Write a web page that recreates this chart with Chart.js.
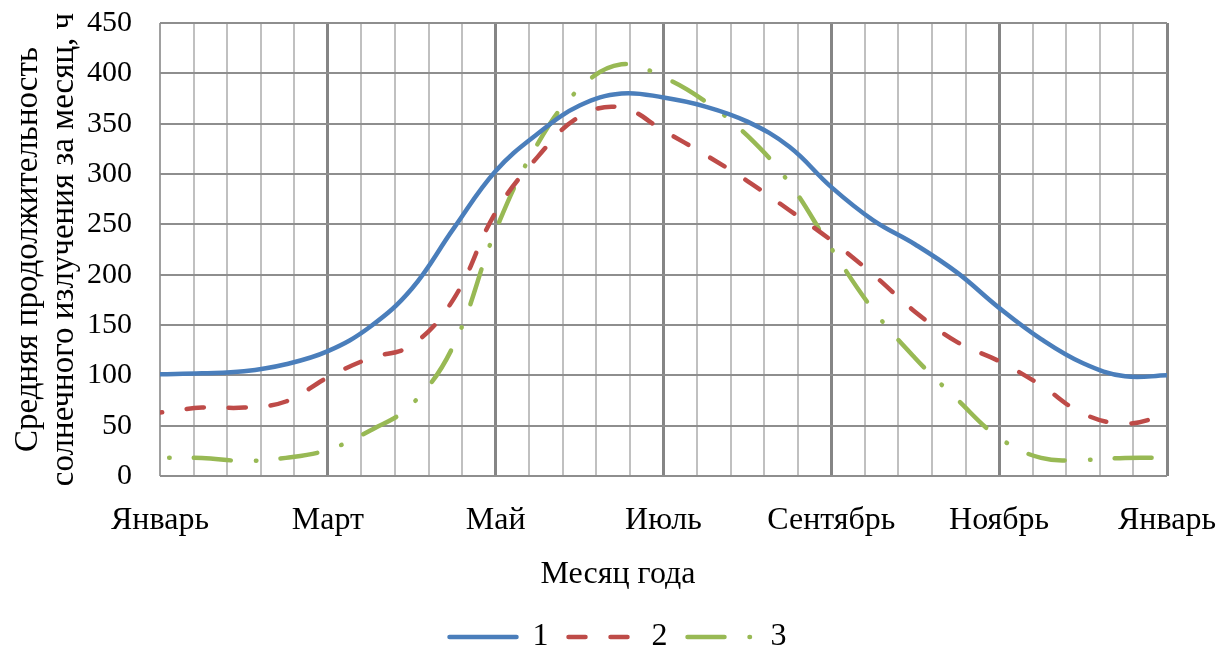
<!DOCTYPE html>
<html lang="ru">
<head>
<meta charset="utf-8">
<title>Продолжительность солнечного излучения</title>
<script src="https://cdn.jsdelivr.net/npm/chart.js@4.4.1/dist/chart.umd.min.js"></script>
<style>
  html, body { margin: 0; padding: 0; background: #fff; overflow: hidden; }
  #wrap { width: 1230px; height: 663px; }
</style>
</head>
<body>
<div id="wrap"><canvas id="sunChart" width="1230" height="663"></canvas></div>
<script>
// Положение по оси X в месяцах (0 = январь, 12 = январь следующего года), шаг полмесяца
const months = [0, 0.5, 1, 1.5, 2, 2.5, 3, 3.5, 4, 4.5, 5, 5.5, 6,
                6.5, 7, 7.5, 8, 8.5, 9, 9.5, 10, 10.5, 11, 11.5, 12];

// Подписи основных делений (каждые два месяца)
const tickLabels = ['Январь', 'Март', 'Май', 'Июль', 'Сентябрь', 'Ноябрь', 'Январь'];

// Средняя продолжительность солнечного излучения, ч
const series1 = [101, 102, 104, 111, 124, 148, 186, 246, 303, 340, 368, 380, 376,
                 367, 352, 327, 287, 254, 230, 202, 167, 136, 112, 99, 100];
const series2 = [63, 68, 68, 74, 98, 117, 130, 176, 262, 317, 357, 366, 343,
                 319, 293, 264, 234, 200, 163, 133, 114, 90, 62, 52, 61];
const series3 = [18, 18, 15, 18, 26, 45, 71, 130, 244, 330, 385, 409, 396,
                 372, 338, 291, 226, 165, 117, 76, 38, 18, 16, 18, 18];

const seriesNames = ['1', '2', '3'];

const FONT = 'Liberation Serif';

function toPoints(values) {
    return months.map((m, i) => ({ x: m, y: values[i] }));
}

const data = {
    datasets: [
        {
            label: seriesNames[0],
            data: toPoints(series1),
            borderColor: '#4a7ebb',
            borderDash: []
        },
        {
            label: seriesNames[1],
            data: toPoints(series2),
            borderColor: '#be4b48',
            borderDash: [17, 25],
            borderDashOffset: 15
        },
        {
            label: seriesNames[2],
            data: toPoints(series3),
            borderColor: '#98b954',
            borderDash: [37, 25, 0.5, 24.5],
            borderDashOffset: 53
        }
    ]
};
data.datasets.forEach(ds => {
    ds.borderWidth = 4.5;
    ds.borderCapStyle = 'round';
    ds.pointRadius = 0;
    ds.pointHoverRadius = 0;
    ds.pointStyle = 'line';
    ds.fill = false;
    ds.tension = 0.4;
});

const config = {
    type: 'line',
    data: data,
    options: {
        responsive: false,
        animation: false,
        devicePixelRatio: 1,
        layout: { padding: { top: 23, left: 6, right: 0, bottom: 0 } },
        scales: {
            x: {
                type: 'linear',
                min: 0,
                max: 12,
                // Chart.js резервирует двойной отступ подписей — задаём размеры сами
                afterFit(scale) {
                    scale.height = 63.4;
                    scale.paddingRight = 63;
                },
                ticks: {
                    stepSize: 0.4,
                    autoSkip: false,
                    maxRotation: 0,
                    padding: 25,
                    color: '#000',
                    font: { family: FONT, size: 32 },
                    callback: (value, index) => index % 5 === 0 ? tickLabels[index / 5] : ''
                },
                grid: {
                    drawTicks: false,
                    color: ctx => ctx.index === 0 ? '#a0a0a0' : (ctx.index % 5 === 0 ? '#858585' : '#c0c0c0'),
                    lineWidth: ctx => (ctx.index % 5 === 0 && ctx.index > 0) ? 3 : 2
                },
                border: { display: false }
            },
            y: {
                min: 0,
                max: 450,
                afterFit(scale) {
                    scale.width = 154;
                    scale.paddingTop = 18;
                    scale.paddingBottom = 18;
                },
                ticks: {
                    stepSize: 50,
                    padding: 28,
                    color: '#000',
                    font: { family: FONT, size: 30 }
                },
                grid: { drawTicks: false, color: '#8e8e8e', lineWidth: 2 },
                border: { display: false },
                title: {
                    display: true,
                    text: ['Средняя продолжительность', 'солнечного излучения за месяц, ч'],
                    color: '#000',
                    font: { family: FONT, size: 33, lineHeight: 1.091 },
                    padding: { top: 4, bottom: 5 }
                }
            }
        },
        plugins: {
            tooltip: { enabled: false },
            title: {
                display: true,
                position: 'bottom',
                weight: 500,
                text: 'Месяц года',
                color: '#000',
                font: { family: FONT, size: 32, weight: 'normal' },
                padding: { top: 16.4, bottom: 6.8 }
            },
            legend: {
                position: 'bottom',
                labels: {
                    usePointStyle: true,
                    pointStyleWidth: 67,
                    padding: 20,
                    color: '#000',
                    font: { family: FONT, size: 32 },
                    generateLabels(chart) {
                        const items = Chart.defaults.plugins.legend.labels.generateLabels(chart);
                        items.forEach(item => {
                            const ds = chart.data.datasets[item.datasetIndex];
                            item.strokeStyle = ds.borderColor;
                            item.lineWidth = ds.borderWidth;
                            item.lineCap = 'round';
                            item.lineDash = ds.borderDash;
                            item.lineDashOffset = 0;
                        });
                        return items;
                    }
                }
            }
        }
    }
};

const sunChart = new Chart(document.getElementById('sunChart'), config);
</script>
</body>
</html>
